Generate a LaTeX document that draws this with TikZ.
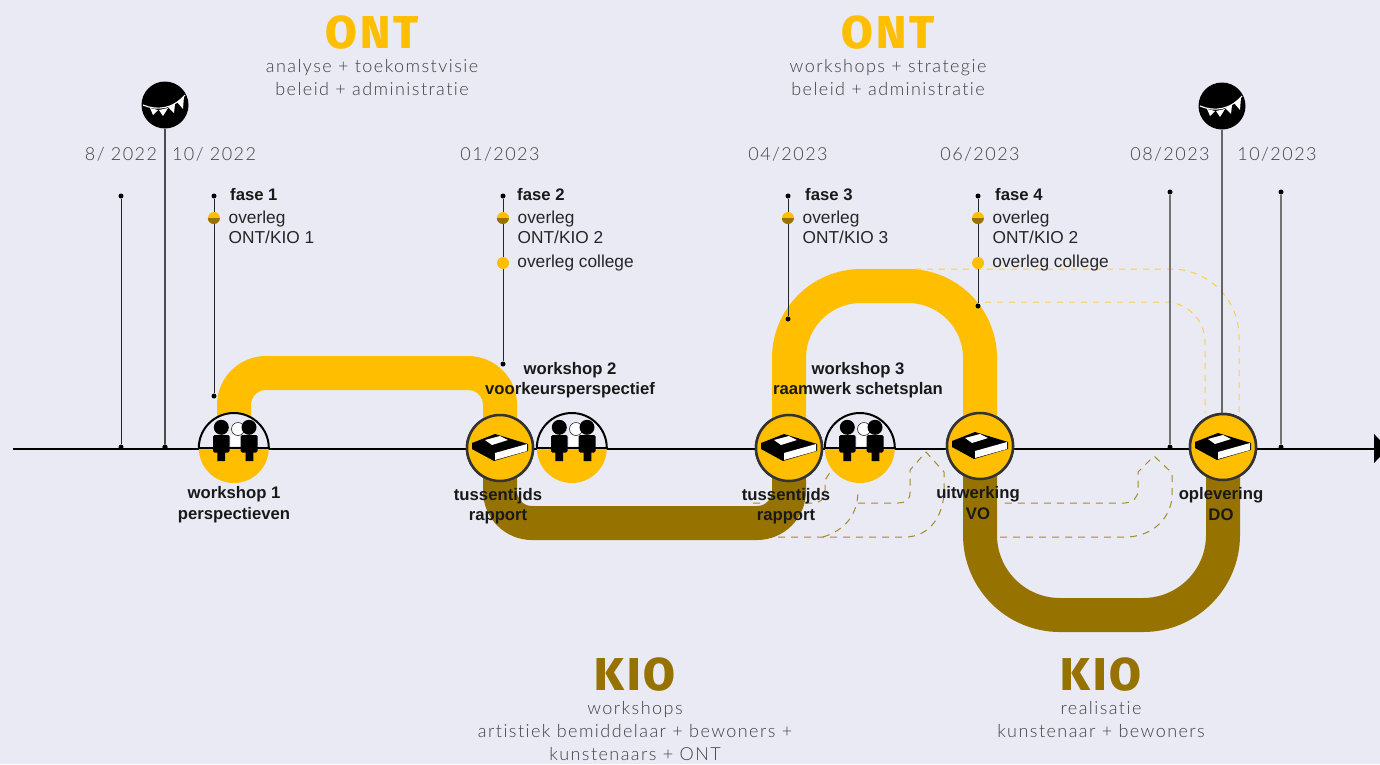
\documentclass[tikz,border=0pt]{standalone}
\usepackage{fontspec}
\usepackage{tikz}
\usetikzlibrary{positioning}
\usetikzlibrary{arrows.meta}
\setmainfont{Liberation Sans}
\newfontfamily\headfont[LetterSpace=6,BoldFont={Fira Sans ExtraBold}]{Fira Sans}
\newfontfamily\thinfont[LetterSpace=8,Ligatures=NoCommon]{Lato Light}
\definecolor{bgcol}{HTML}{EAEAF5}
\definecolor{ontcol}{HTML}{FFBE00}
\definecolor{kiocol}{HTML}{967300}
\definecolor{txtcol}{HTML}{404040}
\tikzset{
  people/.pic = {
    \fill[white] (-3,-13) rectangle (10,-2);
    \draw[fill=white, line width=0.5pt] (4,-19) circle (6.5pt);
    \fill (-12.7,-20.7) circle (7.5pt) (15,-20.7) circle (7.5pt);
    \fill[rounded corners=1.5pt] (-21,4.5) rectangle (-4.3,-13);
    \fill[rounded corners=1.5pt] (6.7,4.5) rectangle (23.7,-13);
    \fill (-16.7,4) rectangle (-9,13) (11.7,4) rectangle (19.3,13);
  },
  book/.pic = {
    \fill (-28,-5) -- (-5,-14) -- (28,-4) -- (28,3) -- (-6,13) -- (-28,1) -- cycle;
    \fill[white] (-15,-8) -- (0,-12) -- (8,-8) -- (-8,-3) -- cycle;
    \fill[white] (-5,5) -- (27,-4) -- (27,3) -- (-5,12) -- cycle;
  },
  bunting/.pic = {
    \draw[white, line width=1.1pt] (-22,0) .. controls (-8,6) and (8,4) .. (20,-10);
    \fill[white] (-15,3) -- (-7,5) -- (-12,10) -- cycle;
    \fill[white] (-6,5) -- (3,3) -- (-2,11) -- cycle;
    \fill[white] (3,2) -- (10,-1) -- (9,8) -- cycle;
    \fill[white] (12,-3) -- (19,-9) -- (18,4) -- cycle;
  }
}
\begin{document}
\begin{tikzpicture}[x=1pt, y=-1pt,
    ontband/.style = {draw=ontcol, line width=34pt},
    kioband/.style = {draw=kiocol, line width=34pt},
    ontdash/.style = {draw=ontcol!75, line width=1pt, dash pattern=on 6pt off 6pt},
    kiodash/.style = {draw=kiocol!85, line width=1pt, dash pattern=on 7pt off 6pt},
    groupnode/.style = {circle, fill=bgcol, minimum size=70pt, inner sep=0pt},
    booknode/.style = {circle, draw=black!80, fill=ontcol, line width=2.5pt, minimum size=66pt, inner sep=0pt},
    tick/.style = {circle, fill=black, minimum size=5pt, inner sep=0pt},
    party/.style = {circle, fill=black, minimum size=47pt, inner sep=0pt},
    ondot/.style = {circle, fill=ontcol, minimum size=12pt, inner sep=0pt},
    bold/.style = {font=\fontsize{16.7}{20.5}\selectfont\bfseries, align=center, text=black!90, inner sep=0pt},
    small/.style = {font=\fontsize{17.3}{20.5}\selectfont, align=left, text=black!85, inner sep=0pt},
    date/.style = {font=\fontsize{18}{20}\selectfont\thinfont, text=txtcol, inner sep=0pt},
    head/.style = {font=\fontsize{46}{50}\selectfont\headfont\bfseries, inner sep=0pt},
    sub/.style = {font=\fontsize{18}{23}\selectfont\thinfont, text=txtcol, align=center, inner sep=0pt}]
  \useasboundingbox (0,0) rectangle (1380,764);
  \fill[bgcol] (0,0) rectangle (1380,764);

  % nodes on the line
  \node[groupnode] (w1) at (234,448) {};
  \node[booknode] (r1) at (500,448) {};
  \node[groupnode] (w2) at (572,448) {};
  \node[booknode] (r2) at (789,448) {};
  \node[groupnode] (w3) at (860,448) {};
  \node[booknode] (r3) at (980,446) {};
  \node[booknode] (r4) at (1223,447) {};

  \coordinate (top1) at (360,373);
  \coordinate (low1) at (640,523);
  \coordinate (top2) at (880,286);
  \coordinate (low2) at (1100,615);

  % dashed lines
  \draw[ontdash, rounded corners=68pt] (915,269) -- (1239,269) -- (1239,413);
  \draw[ontdash, rounded corners=40pt] (985,302) -- (1205,302) -- (1205,413);
  \draw[kiodash] (778,537) -- (905,537) .. controls (930,537) and (944,515) .. (944,490) -- (944,472) -- (926,452) -- (910,470) -- (910,493) .. controls (910,500) and (905,503) .. (898,503) -- (858,503);
  \draw[kiodash] (823,537) .. controls (845,530) and (858,515) .. (858,490);
  \draw[kiodash] (753,503) -- (812,503) .. controls (822,503) and (825,497) .. (825,490) -- (825,480) -- (835,465);
  \draw[kiodash] (1000,537) -- (1125,537) .. controls (1155,537) and (1172,515) .. (1172,495) -- (1172,473) -- (1154,456) -- (1138,472) -- (1138,490) .. controls (1138,498) and (1132,503) .. (1125,503) -- (1000,503);

  % bands
  \draw[kioband, rounded corners=32pt] (r1.center) -- (r1.center |- low1) -- (r2.center |- low1) -- (r2.center);
  \draw[kioband, rounded corners=80pt] (r3.center) -- (r3.center |- low2) -- (r4.center |- low2) -- (r4.center);
  \draw[ontband, rounded corners=32pt] (w1.center) -- (w1.center |- top1) -- (r1.center |- top1) -- (r1.center);
  \draw[ontband, rounded corners=72pt] (r2.center) -- (r2.center |- top2) -- (r3.center |- top2) -- (r3.center);

  % vertical lines
  \foreach \nm/\x/\ya/\yb in {a/121/196/447, b/165/447/447, c/214/196/396, d/503/196/364, e/788/196/319, f/978/196/306, g/1170/192/447, h/1222/447/447, i/1281/192/447} {
    \node[tick] (up\nm) at (\x,\ya) {};
    \node[tick] (lo\nm) at (\x,\yb) {};
  }
  \node[party] (party1) at (165,105) {};
  \node[party] (party2) at (1222,106) {};
  \foreach \nm in {a,c,d,e,f} \draw[line width=1pt, black!85] (up\nm) -- (lo\nm);
  \foreach \nm in {g,i} \draw[line width=1.3pt, black!55] (up\nm) -- (lo\nm);
  \draw[line width=1.4pt, black!70] (party1) -- (lob);
  \draw[line width=1.4pt, black!60] (party2) -- (loh);
  \pic at (party1) {bunting};
  \pic at (party2) {bunting};

  % time line
  \coordinate (begin) at (13,448.5);
  \coordinate (end) at (1392,448.5);
  \draw[line width=2pt, -{Latex[length=18pt,width=30pt]}] (begin) -- (end);

  % icons
  \foreach \n in {w1,w2,w3} {
    \fill[bgcol] (\n.west) arc[start angle=180, end angle=0, radius=35pt] -- cycle;
    \fill[ontcol] (\n.west) arc[start angle=180, end angle=360, radius=35pt] -- cycle;
    \draw[line width=2pt] (\n.west) arc[start angle=180, end angle=0, radius=35pt];
    \draw[line width=2pt] (\n.west) -- (\n.east);
    \pic at (\n) {people};
  }
  \foreach \n in {r1,r2,r3,r4} {
    \node[booknode] at (\n) {};
    \pic at (\n) {book};
  }

  % overleg dots
  \foreach \i/\x/\fx/\k in {1/214/230/1, 2/503/517/2, 3/788/805/3, 4/978/995/2} {
    \node[bold, anchor=west] (fase\i) at (\fx,195) {fase \i};
    \node[ondot] (ov\i) at (\x,218) {};
    \fill[kiocol] (ov\i.west) arc[start angle=180, end angle=360, radius=6pt] -- cycle;
    \node[small, anchor=north west] (txt\i) at (\x+14.5,210.5) {overleg\\ONT/KIO \k};
  }
  \node[ondot] (col2) at (503,263) {};
  \node[ondot] (col4) at (978,263) {};
  \node[small, right=8pt of col2] (coltxt2) {overleg college};
  \node[small, right=8pt of col4] (coltxt4) {overleg college};

  % labels
  \node[bold, below=3pt of w1] (lw1) {workshop 1\\perspectieven};
  \node[bold] (lw2) at (570,380) {workshop 2\\voorkeursperspectief};
  \node[bold] (lw3) at (858,380) {workshop 3\\raamwerk schetsplan};
  \node[bold] (lr1) at (498,506) {tussentijds\\rapport};
  \node[bold] (lr2) at (786,506) {tussentijds\\rapport};
  \node[bold] (lr3) at (978,503) {uitwerking\\VO};
  \node[bold] (lr4) at (1221,504) {oplevering\\DO};

  % dates
  \foreach \x/\t in {121/{8/ 2022}, 214/{10/ 2022}, 500/{01/2023}, 788/{04/2023}, 980/{06/2023}, 1170/{08/2023}, 1277/{10/2023}}
    \node[date] at (\x,154) {\t};

  % headings
  \node[head, text=ontcol] (ont1) at (372,33) {ONT};
  \node[sub, below=9pt of ont1] (ontsub1) {analyse + toekomstvisie\\beleid + administratie};
  \node[head, text=ontcol] (ont2) at (888,33) {ONT};
  \node[sub, below=9pt of ont2] (ontsub2) {workshops + strategie\\beleid + administratie};
  \node[head, text=kiocol] (kio1) at (635,675) {KIO};
  \node[sub, below=9pt of kio1] (kiosub1) {workshops\\artistiek bemiddelaar + bewoners +\\kunstenaars + ONT};
  \node[head, text=kiocol] (kio2) at (1101,675) {KIO};
  \node[sub, below=9pt of kio2] (kiosub2) {realisatie\\kunstenaar + bewoners};
\end{tikzpicture}
\end{document}
